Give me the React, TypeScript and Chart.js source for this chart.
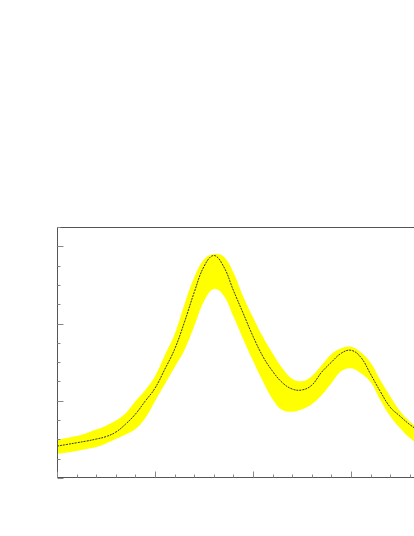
import React, { useEffect, useRef } from "react";
import { Chart, registerables } from "chart.js";

Chart.register(...registerables);

const xValues = [
  0.0, 0.1, 0.2, 0.3, 0.4, 0.5, 0.6, 0.7, 0.8, 0.9,
  1.0, 1.1, 1.2, 1.3, 1.4, 1.5, 1.6, 1.7, 1.8, 1.9,
  2.0, 2.1, 2.2, 2.3, 2.4, 2.5, 2.6, 2.7, 2.8, 2.9,
  3.0, 3.1, 3.2, 3.3, 3.4, 3.5, 3.6, 3.7, 3.8,
];

const centerValues = [
  0.413, 0.434, 0.456, 0.478, 0.504, 0.536, 0.594, 0.698, 0.827, 0.995,
  1.163, 1.408, 1.667, 2.016, 2.403, 2.739, 2.881, 2.739, 2.429, 2.132,
  1.835, 1.576, 1.382, 1.234, 1.152, 1.14, 1.202, 1.37, 1.499, 1.615,
  1.654, 1.563, 1.344, 1.118, 0.917, 0.801, 0.691, 0.607, 0.53,
];

const upperValues = [
  0.491, 0.517, 0.543, 0.581, 0.627, 0.678, 0.743, 0.84, 0.995, 1.137,
  1.318, 1.589, 1.86, 2.248, 2.597, 2.829, 2.901, 2.868, 2.661, 2.351,
  2.08, 1.828, 1.615, 1.421, 1.286, 1.253, 1.318, 1.46, 1.602, 1.68,
  1.699, 1.628, 1.492, 1.266, 1.059, 0.866, 0.73, 0.633, 0.543,
];

const lowerValues = [
  0.31, 0.329, 0.349, 0.375, 0.401, 0.446, 0.504, 0.562, 0.633, 0.775,
  0.995, 1.214, 1.434, 1.654, 1.964, 2.287, 2.448, 2.364, 2.093, 1.796,
  1.518, 1.253, 1.021, 0.879, 0.859, 0.891, 0.956, 1.072, 1.227, 1.382,
  1.421, 1.357, 1.24, 1.008, 0.801, 0.646, 0.517, 0.426, 0.362,
];

const xMajorTicks = [0, 1, 2, 3, 4];
const xMinorTicks = [0.2, 0.4, 0.6, 0.8, 1.2, 1.4, 1.6, 1.8, 2.2, 2.4, 2.6, 2.8, 3.2, 3.4, 3.6, 3.8, 4.2, 4.4];
const yMajorTicks = [0, 1, 2, 3];
const yMinorTicks = [0.25, 0.5, 0.75, 1.25, 1.5, 1.75, 2.25, 2.5, 2.75, 3.25];

const framePlugin = {
  id: "frameTicks",
  afterDraw(chart: any) {
    const { ctx, chartArea } = chart;
    const xs = chart.scales.x;
    const ys = chart.scales.y;
    const L = Math.round(chartArea.left) + 0.5;
    const R = Math.round(chartArea.right) + 0.5;
    const T = Math.round(chartArea.top) + 0.5;
    const B = Math.round(chartArea.bottom) - 0.5;
    ctx.save();
    ctx.strokeStyle = "#555";
    ctx.lineWidth = 1;
    ctx.beginPath();
    ctx.moveTo(L, T);
    ctx.lineTo(R, T);
    ctx.lineTo(R, B);
    ctx.lineTo(L, B);
    ctx.closePath();
    ctx.stroke();
    ctx.strokeStyle = "#888";
    ctx.beginPath();
    const xTick = (v: number, len: number) => {
      const p = Math.round(xs.getPixelForValue(v)) + 0.5;
      ctx.moveTo(p, B);
      ctx.lineTo(p, B - len);
    };
    const yTick = (v: number, len: number) => {
      const p = Math.round(ys.getPixelForValue(v)) + 0.5;
      ctx.moveTo(L, p);
      ctx.lineTo(L + len, p);
    };
    xMajorTicks.forEach((v) => xTick(v, 6));
    xMinorTicks.forEach((v) => xTick(v, 3));
    yMajorTicks.forEach((v) => yTick(v, 6));
    yMinorTicks.forEach((v) => yTick(v, 3));
    ctx.stroke();
    ctx.restore();
  },
};

export default function App() {
  const canvasRef = useRef<HTMLCanvasElement | null>(null);

  useEffect(() => {
    const canvas = canvasRef.current;
    if (!canvas) return;
    const toPts = (vals: number[]) => vals.map((y, i) => ({ x: xValues[i], y }));
    const chart = new Chart(canvas, {
      type: "line",
      data: {
        datasets: [
          {
            label: "center",
            data: toPts(centerValues),
            borderColor: "#333",
            borderWidth: 1,
            borderDash: [2, 1],
            pointRadius: 0,
            fill: false,
            tension: 0.4,
            order: 0,
          },
          {
            label: "upper",
            data: toPts(upperValues),
            borderColor: "rgba(0,0,0,0)",
            borderWidth: 0,
            backgroundColor: "#ffff00",
            pointRadius: 0,
            fill: "+1",
            tension: 0.4,
            order: 1,
          },
          {
            label: "lower",
            data: toPts(lowerValues),
            borderColor: "rgba(0,0,0,0)",
            borderWidth: 0,
            pointRadius: 0,
            fill: false,
            tension: 0.4,
            order: 2,
          },
        ],
      },
      options: {
        responsive: false,
        animation: false,
        devicePixelRatio: 1,
        layout: { padding: { left: 57, top: 227, right: 42, bottom: 58 } },
        plugins: {
          legend: { display: false },
          tooltip: { enabled: false },
          title: { display: false },
        },
        scales: {
          x: { type: "linear", min: 0, max: 4.5, display: false },
          y: { type: "linear", min: 0, max: 3.25, display: false },
        },
      },
      plugins: [framePlugin],
    });
    return () => chart.destroy();
  }, []);

  return (
    <div
      style={{
        position: "fixed",
        left: 0,
        top: 0,
        width: 414,
        height: 536,
        overflow: "hidden",
        background: "#fff",
      }}
    >
      <canvas ref={canvasRef} width={540} height={536} style={{ width: 540, height: 536, display: "block" }} />
    </div>
  );
}
